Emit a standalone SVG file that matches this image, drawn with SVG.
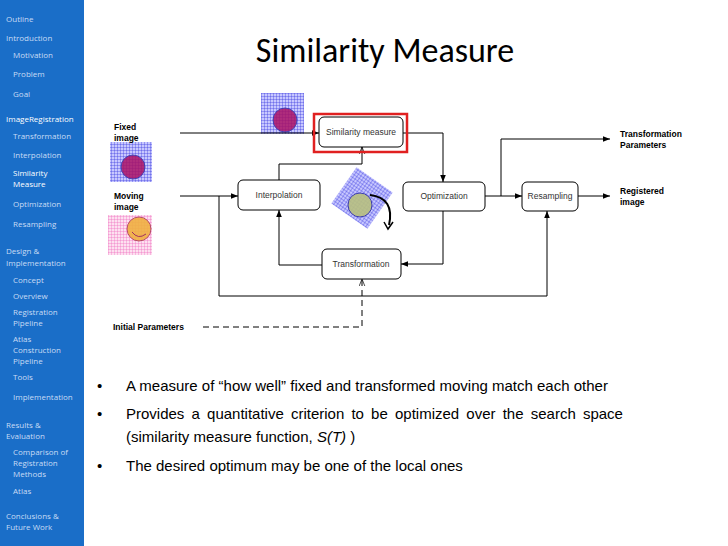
<svg xmlns="http://www.w3.org/2000/svg" width="728" height="546" viewBox="0 0 728 546">
<defs>
<style>
.sb{font-family:"Open Sans","Liberation Sans",sans-serif;font-size:8px;fill:#c8dcf5}
.sbh{font-family:"Open Sans","Liberation Sans",sans-serif;font-size:8px;fill:#ffffff}
.box{fill:#fff;stroke:#000;stroke-width:1}
.bt{font-family:"Liberation Sans",Arial,sans-serif;font-size:8.5px;fill:#333;text-anchor:middle}
.lb{font-family:"Liberation Sans",Arial,sans-serif;font-size:8.5px;font-weight:bold;fill:#000}
.ln{fill:none;stroke:#000;stroke-width:1}
.bu{font-family:"Liberation Sans",Arial,sans-serif;font-size:15px;fill:#000}
</style>
<marker id="a" viewBox="0 0 10 10" refX="10" refY="5" markerWidth="7" markerHeight="7" orient="auto"><path d="M0,1 L10,5 L0,9 z" fill="#000"/></marker>
<marker id="o" viewBox="0 0 10 10" refX="10" refY="5" markerWidth="7" markerHeight="7" orient="auto"><path d="M0,1 L10,5 L0,9" fill="none" stroke="#000"/></marker>
<pattern id="gb" width="3" height="3" patternUnits="userSpaceOnUse"><rect width="3" height="3" fill="#c8c8ff"/><path d="M0,0H3M0,0V3" stroke="#3333dd" stroke-width="0.7"/></pattern>
<pattern id="gp" width="3" height="3" patternUnits="userSpaceOnUse"><rect width="3" height="3" fill="#fde0f0"/><path d="M0,0H3M0,0V3" stroke="#ee66bb" stroke-width="0.7"/></pattern>
</defs>
<rect width="728" height="546" fill="#fff"/>
<rect width="84" height="546" fill="#1a6ec8"/>
<g>
<text class="sb" x="6" y="22">Outline</text>
<text class="sb" x="6" y="41">Introduction</text>
<text class="sb" x="13" y="58">Motivation</text>
<text class="sb" x="13" y="77">Problem</text>
<text class="sb" x="13" y="97">Goal</text>
<text class="sbh" x="6" y="122">ImageRegistration</text>
<text class="sb" x="13" y="139">Transformation</text>
<text class="sb" x="13" y="158">Interpolation</text>
<text class="sbh" x="13" y="176">Similarity</text>
<text class="sbh" x="13" y="187">Measure</text>
<text class="sb" x="13" y="207">Optimization</text>
<text class="sb" x="13" y="227">Resampling</text>
<text class="sb" x="6" y="254">Design &amp;</text>
<text class="sb" x="6" y="266">Implementation</text>
<text class="sb" x="13" y="283">Concept</text>
<text class="sb" x="13" y="299">Overview</text>
<text class="sb" x="13" y="315">Registration</text>
<text class="sb" x="13" y="326">Pipeline</text>
<text class="sb" x="13" y="342">Atlas</text>
<text class="sb" x="13" y="353">Construction</text>
<text class="sb" x="13" y="364">Pipeline</text>
<text class="sb" x="13" y="380">Tools</text>
<text class="sb" x="13" y="400">Implementation</text>
<text class="sb" x="6" y="428">Results &amp;</text>
<text class="sb" x="6" y="439">Evaluation</text>
<text class="sb" x="13" y="455">Comparison of</text>
<text class="sb" x="13" y="466">Registration</text>
<text class="sb" x="13" y="477">Methods</text>
<text class="sb" x="13" y="494">Atlas</text>
<text class="sb" x="6" y="519">Conclusions &amp;</text>
<text class="sb" x="6" y="530">Future Work</text>
</g>
<text x="385" y="62" font-family="Carlito,'Open Sans','Liberation Sans',sans-serif" font-size="34" text-anchor="middle" fill="#000">Similarity Measure</text>
<g id="img-fixed-top"><rect x="261" y="93" width="43" height="41" fill="url(#gb)"/><circle cx="285" cy="120" r="12" fill="#aa1166" stroke="#3333aa" opacity="0.85"/></g>
<g id="img-fixed"><rect x="110" y="142" width="42" height="40" fill="url(#gb)"/><circle cx="133" cy="167" r="12" fill="#aa1166" stroke="#3333aa" opacity="0.85"/></g>
<g id="img-moving"><rect x="108" y="215" width="44" height="40" fill="url(#gp)"/><circle cx="139" cy="229" r="12" fill="#f0b040" stroke="#b04060" opacity="0.9"/><path d="M132,232 Q138,240 146,234" fill="none" stroke="#a03060"/></g>
<g id="img-rot" transform="rotate(35 362 198)"><rect x="340" y="176" width="44" height="44" fill="url(#gb)"/></g>
<circle cx="360" cy="205" r="12" fill="#b8c080" stroke="#3333aa" opacity="0.9"/>
<path d="M370,195 Q395,198 389,225" fill="none" stroke="#000" stroke-width="2"/>
<path d="M384,222 L388,229 L393,222" fill="none" stroke="#000" stroke-width="1.5"/>
<g id="connectors">
<path class="ln" d="M180,133 H319" marker-end="url(#a)"/>
<path class="ln" d="M180,196 H238" marker-end="url(#a)"/>
<path class="ln" d="M219,196 V296 H547 V211" marker-end="url(#a)"/>
<path class="ln" d="M279,180 V164 H362 V147" marker-end="url(#o)"/>
<path class="ln" d="M322,265 H279 V210" marker-end="url(#a)"/>
<path class="ln" d="M403,133 H443 V182" marker-end="url(#a)"/>
<path class="ln" d="M443,211 V264 H401" marker-end="url(#a)"/>
<path class="ln" d="M485,196 H522" marker-end="url(#a)"/>
<path class="ln" d="M501,196 V139 H610" marker-end="url(#a)"/>
<path class="ln" d="M578,196 H610" marker-end="url(#a)"/>
<path class="ln" d="M203,327 H362 V279" stroke-dasharray="6,4" marker-end="url(#o)"/>
</g>
<g id="n-sim"><rect x="314" y="114" width="93" height="38" fill="none" stroke="#e02020" stroke-width="2.5"/><rect class="box" x="319" y="117" width="84" height="30" rx="5"/><text class="bt" x="361" y="135">Similarity measure</text></g>
<g id="n-interp"><rect class="box" x="238" y="180" width="82" height="30" rx="5"/><text class="bt" x="279" y="198">Interpolation</text></g>
<g id="n-opt"><rect class="box" x="403" y="182" width="82" height="29" rx="5"/><text class="bt" x="444" y="199">Optimization</text></g>
<g id="n-res"><rect class="box" x="522" y="182" width="56" height="29" rx="5"/><text class="bt" x="550" y="199">Resampling</text></g>
<g id="n-trans"><rect class="box" x="322" y="249" width="79" height="30" rx="5"/><text class="bt" x="361" y="267">Transformation</text></g>
<text class="lb" x="114" y="130">Fixed</text><text class="lb" x="114" y="141">image</text>
<text class="lb" x="114" y="199">Moving</text><text class="lb" x="114" y="210">image</text>
<text class="lb" x="113" y="330">Initial Parameters</text>
<text class="lb" x="620" y="137">Transformation</text><text class="lb" x="620" y="148">Parameters</text>
<text class="lb" x="620" y="194">Registered</text><text class="lb" x="620" y="205">image</text>
<g class="bu">
<text x="97" y="391">•</text><text x="126" y="391">A measure of “how well” fixed and transformed moving match each other</text>
<text x="97" y="419">•</text><text x="126" y="419" word-spacing="3">Provides a quantitative criterion to be optimized over the search space</text>
<text x="126" y="442">(similarity measure function, <tspan font-style="italic">S(T)</tspan> )</text>
<text x="97" y="471">•</text><text x="126" y="471">The desired optimum may be one of the local ones</text>
</g>
</svg>
